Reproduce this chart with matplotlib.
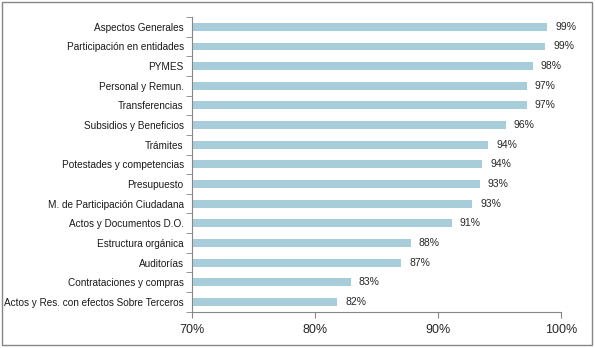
import matplotlib.pyplot as plt
from matplotlib.patches import Rectangle
from matplotlib.ticker import FixedLocator, PercentFormatter

categories = [
    "Aspectos Generales",
    "Participación en entidades",
    "PYMES",
    "Personal y Remun.",
    "Transferencias",
    "Subsidios y Beneficios",
    "Trámites",
    "Potestades y competencias",
    "Presupuesto",
    "M. de Participación Ciudadana",
    "Actos y Documentos D.O.",
    "Estructura orgánica",
    "Auditorías",
    "Contrataciones y compras",
    "Actos y Res. con efectos Sobre Terceros",
]
values = [98.9, 98.7, 97.7, 97.2, 97.2, 95.5, 94.1, 93.6,
          93.4, 92.8, 91.1, 87.8, 87.0, 82.9, 81.8]
x_ticks = [70, 80, 90, 100]

plt.rcParams['font.family'] = ['Liberation Sans', 'DejaVu Sans']

fig = plt.figure(figsize=(5.95, 3.48), dpi=100)
ax = fig.add_axes([192 / 595, 1 - 311.7 / 348, 369 / 595, (311.7 - 17) / 348])

n = len(categories)
ypos = list(range(n))[::-1]
ax.barh(ypos, values, height=0.4, color="#A7CDDB", left=0)
for y, v in zip(ypos, values):
    ax.text(v + 0.65, y, f"{round(v):.0f}%", va="center", ha="left",
            fontsize=7.5, color="#262626")

ax.set_xlim(70, 100)
ax.set_ylim(-0.5, n - 0.5)
ax.set_xticks(x_ticks)
ax.xaxis.set_major_formatter(PercentFormatter(decimals=0))
ax.set_yticks(ypos)
ax.set_yticklabels(categories, fontsize=7.2, color="#1a1a1a")
ax.yaxis.set_minor_locator(FixedLocator([i - 0.5 for i in range(n + 1)]))
ax.tick_params(axis="y", which="major", length=0, pad=6)
ax.tick_params(axis="y", which="minor", length=4, color="#868686")
ax.tick_params(axis="x", length=4, color="#868686", labelsize=9, pad=5,
               labelcolor="#262626")

for s in ["top", "right"]:
    ax.spines[s].set_visible(False)
for s in ["left", "bottom"]:
    ax.spines[s].set_color("#868686")
    ax.spines[s].set_linewidth(0.8)

fig.patches.append(Rectangle((2 / 595, 3 / 348), 590 / 595, 343 / 348,
                             transform=fig.transFigure, fill=False,
                             edgecolor="#868686", linewidth=1))

fig.savefig("out.png", dpi=100)
